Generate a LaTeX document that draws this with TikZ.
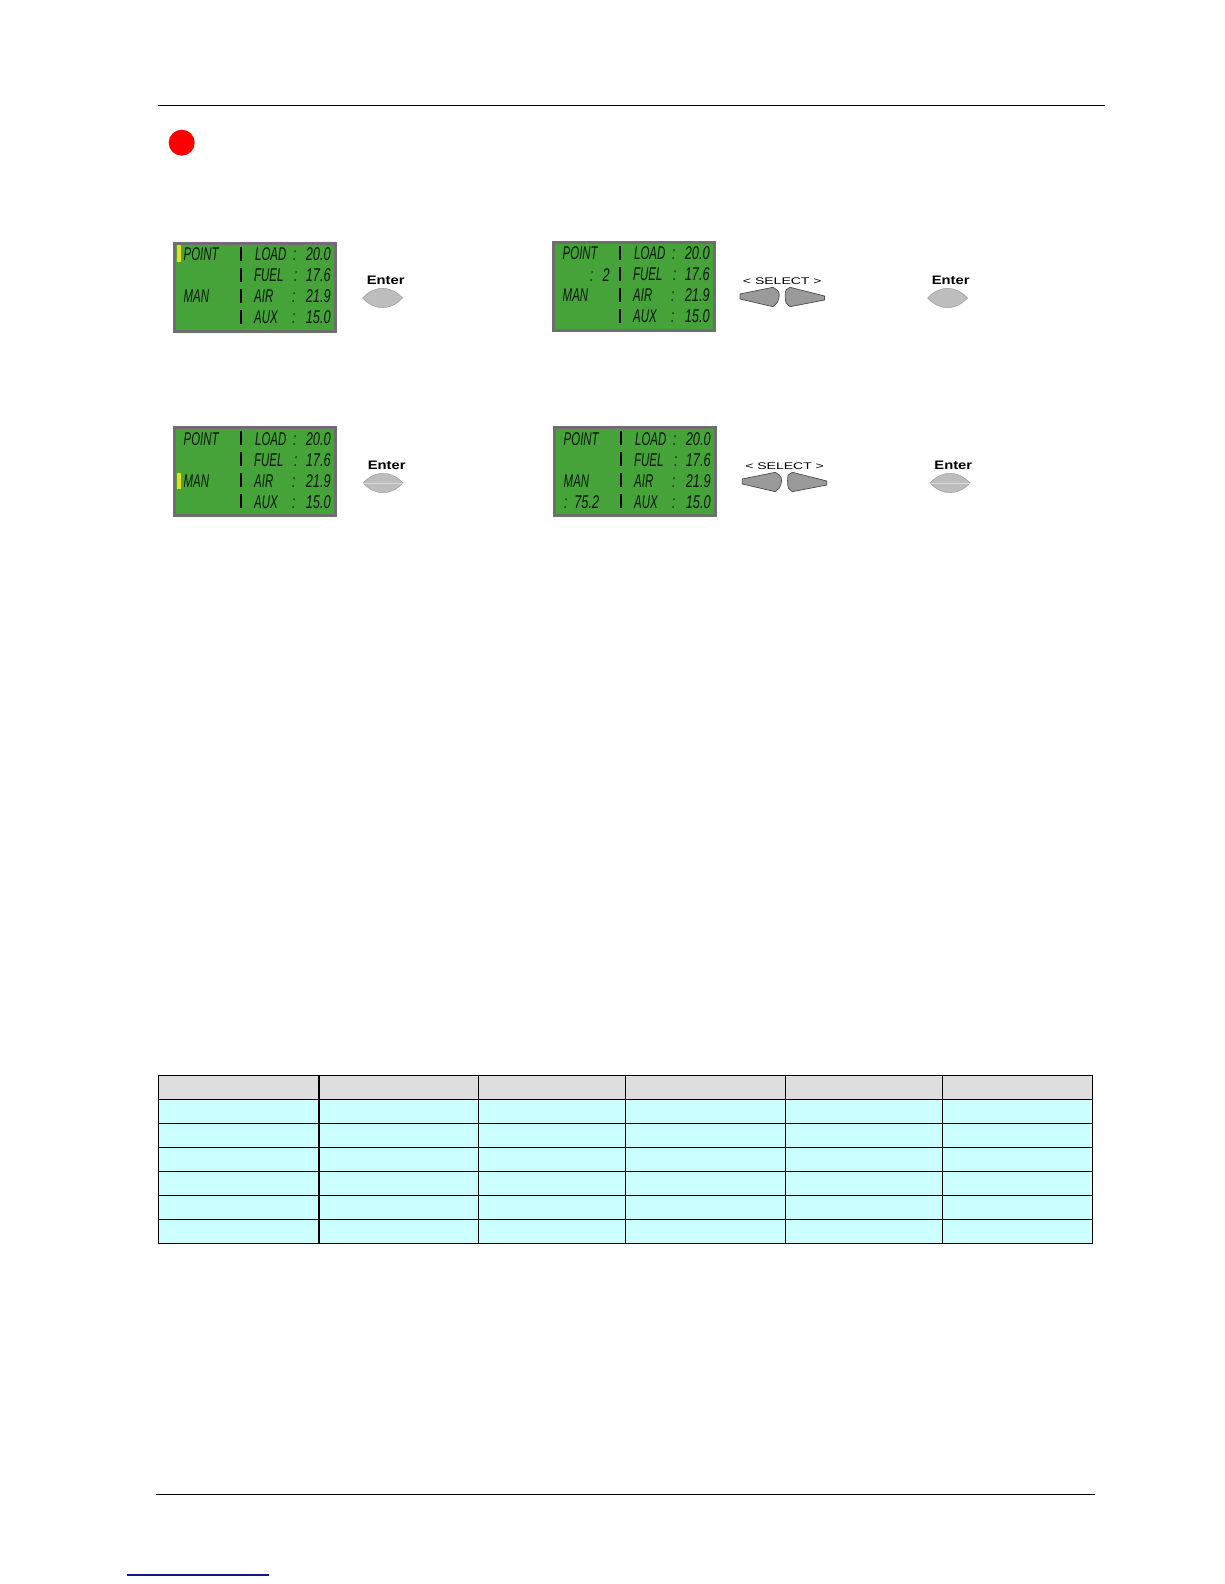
\documentclass[tikz,border=0pt]{standalone}
\usepackage{fontspec}
\setmainfont{Liberation Sans}
\usepackage{xcolor}
\definecolor{lcdgreen}{HTML}{45A33A}
\definecolor{lcdframe}{HTML}{6E6E6E}
\definecolor{keygrey}{HTML}{BDBDBD}
\definecolor{selectgrey}{HTML}{9A9A9A}
\definecolor{headgrey}{HTML}{DEDEDE}
\definecolor{cellcyan}{HTML}{CCFFFF}
\definecolor{linkblue}{HTML}{0A1A8C}

\begin{document}
\begin{tikzpicture}[
    x=0.02cm, y=-0.02cm,
    lcdbox/.style={draw=lcdframe, line width=0.06cm, fill=lcdgreen, minimum width=3.22cm, minimum height=1.77cm, inner sep=0pt, anchor=north west},
    lcdtxt/.style={font=\itshape\fontsize{10.5}{10.5}\selectfont, text=black!85!lcdgreen, xscale=0.62, transform shape, inner sep=0pt, anchor=base west},
    lcdnum/.style={lcdtxt, xscale=1.12, anchor=base east},
    lcdbar/.style={line width=0.05cm, black},
    cursor/.style={fill=yellow!90!black, draw=none},
    enterkey/.style={draw=black!45, line width=0.2pt, fill=keygrey},
    selkey/.style={draw=black!70, line width=0.4pt, fill=selectgrey},
    keylab/.style={font=\bfseries\fontsize{7}{7}\selectfont, xscale=1.2, transform shape, inner sep=0pt},
    sellab/.style={font=\fontsize{5.5}{5.5}\selectfont, xscale=1.45, transform shape, inner sep=0pt},
    rule/.style={line width=0.5pt, black},
    grid/.style={line width=0.5pt, black},
]

\useasboundingbox (0,0) rectangle (1224,1584);

% page rules
\coordinate (topa) at (158,105);
\coordinate (topb) at (1105,105);
\coordinate (bota) at (156,1494);
\coordinate (botb) at (1095,1494);
\coordinate (linka) at (127,1575);
\coordinate (linkb) at (269,1575);
\draw[rule] (topa) -- (topb);
\draw[rule] (bota) -- (botb);
\draw[linkblue, line width=0.6pt] (linka) -- (linkb);

\node[circle, fill=red, minimum size=0.52cm, inner sep=0pt] (warn) at (181.7,142.7) {};

% displays
\foreach \pn/\px/\py in {a/173/242, b/552/241, c/173/426, d/553/426} {
  \node[lcdbox] (lcd\pn) at (\px,\py) {};
  \begin{scope}[shift={(\px,\py)}]
    \foreach \ry in {5,26,47,68} \draw[lcdbar] (68,\ry) -- (68,\ry+14);
    \node[lcdtxt] (load\pn) at (82,19) {LOAD};
    \node[lcdtxt] (colla\pn) at (120,19) {:};
    \node[lcdnum] (loadv\pn) at (158,19) {20.0};
    \node[lcdtxt] (fuel\pn) at (81,40) {FUEL};
    \node[lcdtxt] (collb\pn) at (121,40) {:};
    \node[lcdnum] (fuelv\pn) at (158,40) {17.6};
    \node[lcdtxt] (air\pn) at (81,61) {AIR};
    \node[lcdtxt] (collc\pn) at (119,61) {:};
    \node[lcdnum] (airv\pn) at (158,61) {21.9};
    \node[lcdtxt] (aux\pn) at (81,82) {AUX};
    \node[lcdtxt] (colld\pn) at (119,82) {:};
    \node[lcdnum] (auxv\pn) at (158,82) {15.0};
    \node[lcdtxt] (point\pn) at (10.5,19) {POINT};
    \node[lcdtxt] (man\pn) at (10.5,61) {MAN};
  \end{scope}
}
\node[lcdtxt] (pointcol) at (590,281.7) {:};
\node[lcdnum] (pointval) at (610,281.7) {2};
\node[lcdtxt] (mancol) at (564,508) {:};
\node[lcdnum] (manval) at (599.5,508) {75.2};

\fill[cursor] (176.5,245) rectangle (181,262);
\fill[cursor] (176.5,472.7) rectangle (181,489);

% enter keys
\foreach \pn/\kx/\ky/\tx/\ty in {a/382.5/298/385.7/280.7, b/947.5/298/950.7/280.7, c/383/483/386.7/465.3, d/950/483/953.3/465.3} {
  \draw[enterkey] (\kx-20,\ky) .. controls (\kx-8,\ky-13) and (\kx+8,\ky-13) .. (\kx+20,\ky) .. controls (\kx+8,\ky+13) and (\kx-8,\ky+13) .. (\kx-20,\ky) -- cycle;
  \node[keylab] (enter\pn) at (\tx,\ty) {Enter};
}
\draw[white!85!black, line width=0.3pt] (363,483) -- (403,483);
\draw[white!85!black, line width=0.3pt] (930,483) -- (970,483);

% select keys
\foreach \pn/\sx/\sy in {b/0/0, d/2.3/185} {
  \begin{scope}[shift={(\sx,\sy)}]
    \draw[selkey] (740,294) -- (740,299) -- (773,306.7) -- (777,303) .. controls (780,298) and (780,292) .. (777,290) -- (773,287.3) -- cycle;
    \draw[selkey] (824.5,296) -- (824.5,300) -- (790,306.7) -- (786,303) .. controls (785,299) and (785,292) .. (786,290) -- (790,287.3) -- cycle;
    \node[sellab] (select\pn) at (782.3,281) {< SELECT >};
  \end{scope}
}

% table
\fill[headgrey] (158.3,1075.3) rectangle (1092.7,1099.3);
\fill[cellcyan] (158.3,1099.3) rectangle (1092.7,1243.3);
\foreach \ly in {1075.3,1099.3,1123.3,1147.3,1171.3,1195.3,1219.3,1243.3} \draw[grid] (158.3,\ly) -- (1092.7,\ly);
\foreach \lx in {158.3,478.3,625.7,785.7,942.3,1092.7} \draw[grid] (\lx,1075.3) -- (\lx,1243.3);
\draw[grid, line width=1.1pt] (319,1075.3) -- (319,1243.3);

\end{tikzpicture}
\end{document}
